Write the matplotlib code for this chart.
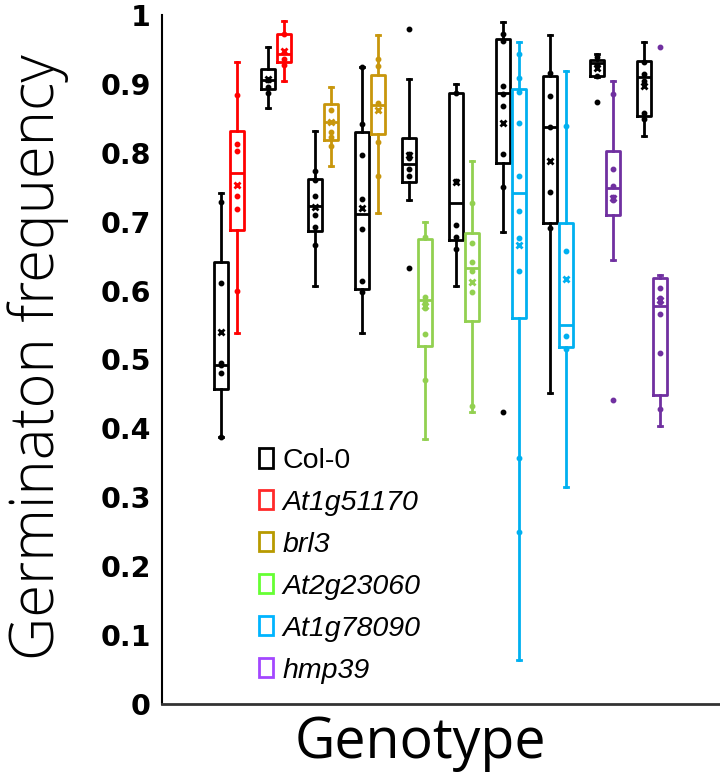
import numpy as np
import matplotlib
matplotlib.use('Agg')
import matplotlib.pyplot as plt
from matplotlib.patches import Patch

# genotypes and colours (boxes use one shade, the legend another)
genotypes = ['Col-0', 'At1g51170', 'brl3', 'At2g23060', 'At1g78090', 'hmp39']
box_colors = ['#000000', '#ff0000', '#c8960c', '#92d050', '#00b0f0', '#7030a0']
legend_colors = ['#000000', '#ff2a2a', '#b89a00', '#66ff33', '#00b4ff', '#a347ff']

# 20 boxes, left to right (Col-0 then mutant, ten pairs)
box_genotype = [0, 1, 0, 1, 0, 2, 0, 2, 0, 3, 0, 3, 0, 4, 0, 4, 0, 5, 0, 5]
whislo = [0.388, 0.538, 0.865, 0.904, 0.607, 0.781, 0.538, 0.713, 0.731, 0.385,
          0.607, 0.424, 0.685, 0.064, 0.451, 0.315, 0.910, 0.644, 0.824, 0.403]
q1 = [0.457, 0.688, 0.893, 0.932, 0.687, 0.819, 0.602, 0.827, 0.758, 0.520,
      0.673, 0.556, 0.785, 0.560, 0.698, 0.518, 0.911, 0.710, 0.853, 0.448]
med = [0.492, 0.771, 0.906, 0.943, 0.723, 0.845, 0.711, 0.869, 0.784, 0.586,
       0.727, 0.633, 0.887, 0.742, 0.837, 0.550, 0.930, 0.749, 0.910, 0.578]
q3 = [0.641, 0.832, 0.922, 0.972, 0.762, 0.871, 0.830, 0.913, 0.821, 0.675,
      0.887, 0.684, 0.965, 0.893, 0.911, 0.698, 0.935, 0.803, 0.933, 0.618]
whishi = [0.742, 0.932, 0.954, 0.991, 0.832, 0.896, 0.925, 0.971, 0.907, 0.700,
          0.900, 0.788, 0.990, 0.961, 0.971, 0.919, 0.943, 0.904, 0.961, 0.623]
means = [0.540, 0.753, 0.907, 0.948, 0.721, 0.845, 0.720, 0.862, 0.797, 0.578,
         0.758, 0.612, 0.843, 0.666, 0.788, 0.617, 0.923, 0.734, 0.897, 0.586]
points = [
    [0.729, 0.611, 0.495, 0.492, 0.480, 0.388],
    [0.884, 0.813, 0.803, 0.737, 0.718, 0.599],
    [0.896, 0.887, 0.906],
    [0.972, 0.936, 0.927],
    [0.774, 0.761, 0.737, 0.710, 0.692, 0.666],
    [0.862, 0.830, 0.823, 0.810],
    [0.925, 0.842, 0.797, 0.733, 0.689, 0.614, 0.598],
    [0.936, 0.926, 0.872, 0.816, 0.766],
    [0.798, 0.792, 0.776, 0.766],
    [0.678, 0.591, 0.582, 0.575, 0.537, 0.470],
    [0.887, 0.759, 0.695, 0.678, 0.660],
    [0.727, 0.669, 0.642, 0.628, 0.598, 0.433],
    [0.972, 0.962, 0.897, 0.885, 0.868, 0.798, 0.750],
    [0.943, 0.909, 0.888, 0.843, 0.766, 0.716, 0.676, 0.628, 0.357, 0.250],
    [0.916, 0.882, 0.837, 0.743, 0.691],
    [0.839, 0.657, 0.534, 0.515],
    [0.939, 0.927, 0.911],
    [0.885, 0.776, 0.752, 0.736, 0.731],
    [0.932, 0.914, 0.904, 0.858, 0.849],
    [0.604, 0.589, 0.583, 0.566, 0.509, 0.428],
]
fliers = [[], [], [], [], [], [], [], [], [0.980, 0.633], [],
          [], [], [0.424], [], [], [], [0.874], [0.441], [], [0.954]]

fig = plt.figure(figsize=(7.2, 7.74), dpi=100)
ax = fig.add_axes([0.225, 0.0904, 0.775, 0.8904])

for i in range(len(box_genotype)):
    pos = (i // 2) + (i % 2) * 0.34
    c = box_colors[box_genotype[i]]
    stats = [dict(med=med[i], q1=q1[i], q3=q3[i], whislo=whislo[i], whishi=whishi[i],
                  mean=means[i], fliers=fliers[i])]
    ax.bxp(stats, positions=[pos], widths=0.31, showmeans=True, showfliers=True,
           capwidths=0.1, manage_ticks=False,
           boxprops=dict(color=c, lw=2),
           whiskerprops=dict(color=c, lw=2),
           capprops=dict(color=c, lw=2),
           medianprops=dict(color=c, lw=2),
           meanprops=dict(marker='x', markeredgecolor=c, markersize=5, markeredgewidth=2),
           flierprops=dict(marker='o', markerfacecolor=c, markeredgecolor=c, markersize=3.2))
    ax.plot([pos] * len(points[i]), points[i], 'o', color=c, markersize=3.2, zorder=4)

ax.set_xlim(-1.255, 10.617)
ax.set_ylim(0, 1)
ax.set_yticks(np.arange(0, 1.01, 0.1))
ax.set_yticklabels(['0', '0.1', '0.2', '0.3', '0.4', '0.5', '0.6', '0.7', '0.8', '0.9', '1'])
ax.set_xticks([])
ax.tick_params(axis='y', length=0, pad=8, labelsize=20.5)
for t in ax.get_yticklabels():
    t.set_fontweight('heavy')
ax.spines['top'].set_visible(False)
ax.spines['right'].set_visible(False)
ax.spines['left'].set_linewidth(1.5)
ax.spines['bottom'].set_linewidth(2)
ax.spines['bottom'].set_color('#333333')

fig.text(38 / 720, 1 - 357 / 774, 'Germinaton frequency', rotation=90, ha='center', va='center',
         fontsize=43, family=['Open Sans', 'DejaVu Sans'], fontweight='light')
fig.text(420 / 720, 1 - 758 / 774, 'Genotype', ha='center', va='baseline',
         fontsize=40, family=['Open Sans', 'DejaVu Sans'])

handles = [Patch(facecolor='none', edgecolor=legend_colors[k], lw=2) for k in range(len(genotypes))]
leg = fig.legend(handles, genotypes, loc='upper left', bbox_to_anchor=(259 / 720, 1 - 448 / 774),
                 frameon=False, borderpad=0, borderaxespad=0, handlelength=0.5, handleheight=0.65,
                 handletextpad=0.32, labelspacing=0.56,
                 prop=dict(family=['Liberation Sans', 'DejaVu Sans'], size=20.5))
for k, t in enumerate(leg.get_texts()):
    if k > 0:
        t.set_fontstyle('italic')

fig.savefig('out.png', dpi=100)
